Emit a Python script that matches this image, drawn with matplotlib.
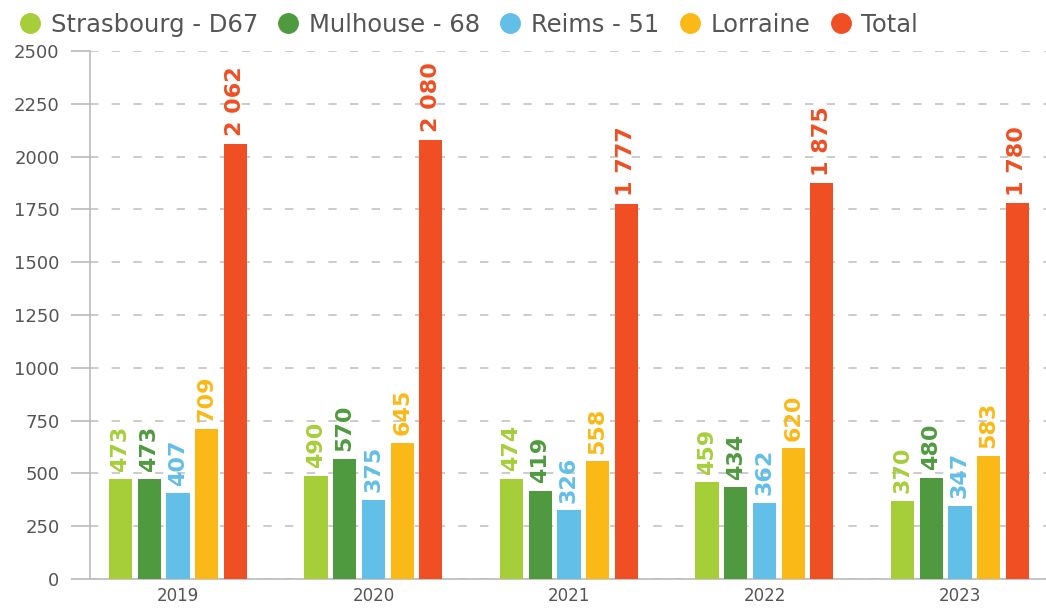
import numpy as np
import matplotlib.pyplot as plt
from matplotlib.lines import Line2D

years = ['2019', '2020', '2021', '2022', '2023']
series = ['Strasbourg - D67', 'Mulhouse - 68', 'Reims - 51', 'Lorraine', 'Total']
strasbourg = [473, 490, 474, 459, 370]
mulhouse = [473, 570, 419, 434, 480]
reims = [407, 375, 326, 362, 347]
lorraine = [709, 645, 558, 620, 583]
total = [2062, 2080, 1777, 1875, 1780]
colors = ['#a6ce39', '#4f9a3e', '#62bfe7', '#fbb917', '#f04e23']
values = [strasbourg, mulhouse, reims, lorraine, total]

fig = plt.figure(figsize=(10.46, 6.12), dpi=100)
ax = fig.add_axes([90 / 1046, 33 / 612, 956 / 1046, 528 / 612])

x = np.arange(len(years))
w = 0.118
step = 0.147
for i, (vals, c) in enumerate(zip(values, colors)):
    pos = x + (i - 2) * step
    ax.bar(pos, vals, width=w, color=c, zorder=3)
    for p, v in zip(pos, vals):
        txt = f'{v:,}'.replace(',', ' ')
        ax.text(p, v + 35, txt, rotation=90, ha='center', va='bottom',
                color=c, fontsize=16, fontweight='bold')

ax.set_xlim(-0.45, 4.44)
ax.set_ylim(0, 2500)
ax.set_yticks(np.arange(0, 2501, 250))
ax.set_xticks(x)
ax.set_xticklabels(years)
ax.yaxis.grid(True, linestyle=(0, (5, 8)), color='#c4c4c4', linewidth=1.2)
ax.set_axisbelow(True)
for s in ['top', 'right']:
    ax.spines[s].set_visible(False)
for s in ['left', 'bottom']:
    ax.spines[s].set_color('#bbbbbb')
    ax.spines[s].set_linewidth(1.2)
ax.tick_params(axis='y', length=14, width=1.2, color='#bbbbbb', labelsize=13, labelcolor='#555555', pad=8)
ax.tick_params(axis='x', length=0, labelsize=12, labelcolor='#555555', pad=6)

handles = [Line2D([], [], marker='o', linestyle='', markersize=14, color=c) for c in colors]
fig.legend(handles, series, loc='upper left', bbox_to_anchor=(-0.004, 1.015), ncol=5,
           frameon=False, fontsize=17.5, labelcolor='#555555', handletextpad=0.35,
           columnspacing=0.75, handlelength=1.0)

fig.savefig('out.png', dpi=100)
